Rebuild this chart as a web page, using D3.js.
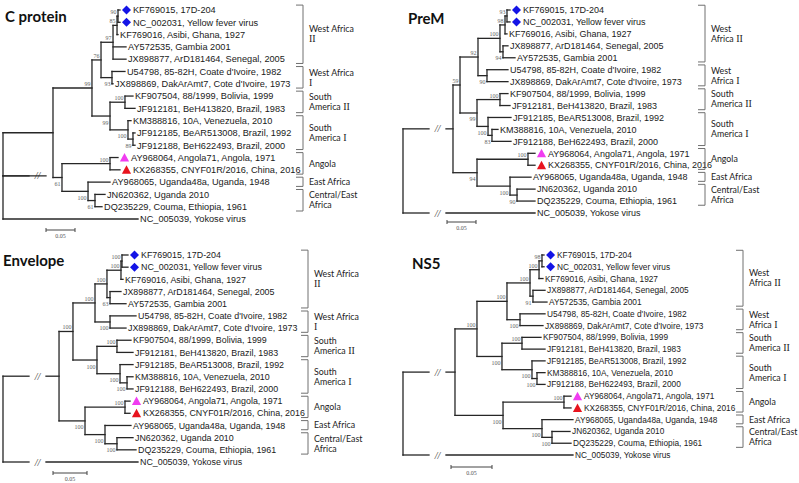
<!DOCTYPE html>
<html><head><meta charset="utf-8">
<script src="https://cdn.jsdelivr.net/npm/d3@7"></script>
<style>body{margin:0;background:#fff}svg{display:block}</style>
</head><body>
<svg id="chart" width="799" height="483"></svg>
<script>
// ---------- data ----------
const leafText = {
  "KF769015": "KF769015, 17D-204",
  "NC_002031": "NC_002031, Yellow fever virus",
  "KF769016": "KF769016, Asibi, Ghana, 1927",
  "AY572535": "AY572535, Gambia 2001",
  "JX898877": "JX898877, ArD181464, Senegal, 2005",
  "U54798": "U54798, 85-82H, Coate d'Ivoire, 1982",
  "JX898869": "JX898869, DakArAmt7, Cote d'Ivoire, 1973",
  "KF907504": "KF907504, 88/1999, Bolivia, 1999",
  "JF912181": "JF912181, BeH413820, Brazil, 1983",
  "KM388816": "KM388816, 10A, Venezuela, 2010",
  "JF912185": "JF912185, BeAR513008, Brazil, 1992",
  "JF912188": "JF912188, BeH622493, Brazil, 2000",
  "AY968064": "AY968064, Angola71, Angola, 1971",
  "KX268355": "KX268355, CNYF01R/2016, China, 2016",
  "AY968065": "AY968065, Uganda48a, Uganda, 1948",
  "JN620362": "JN620362, Uganda 2010",
  "DQ235229": "DQ235229, Couma, Ethiopia, 1961",
  "NC_005039": "NC_005039, Yokose virus"
};
const leafMarker = {"KF769015":"diamond","NC_002031":"diamond","AY968064":"triM","KX268355":"triR"};

const orderC = ["KF769015","NC_002031","KF769016","AY572535","JX898877","U54798","JX898869","KF907504","JF912181","KM388816","JF912185","JF912188","AY968064","KX268355","AY968065","JN620362","DQ235229","NC_005039"];
const orderOther = ["KF769015","NC_002031","KF769016","JX898877","AY572535","U54798","JX898869","KF907504","JF912181","JF912185","KM388816","JF912188","AY968064","KX268355","AY968065","JN620362","DQ235229","NC_005039"];

// trees: node depth (substitutions/site, display) after ':', bootstrap as internal name ('b' = label below node)
const treeC = "((((((((KF769015:0.2017,NC_002031:0.2017)90:0.1983,KF769016:0.1983)85:0.1966,AY572535:0.2121,JX898877:0.2121)97:0.1897,(U54798:0.2103,JX898869:0.1897)93b:0.1879)76:0.1690,((KF907504:0.2241,JF912181:0.2276)100:0.2103,(KM388816:0.2207,(JF912185:0.2276,JF912188:0.2276)89b:0.2241)100b:0.2155)99b:0.1845)99:0.1534,((AY968064:0.1983,KX268355:0.2017)100:0.1845,(AY968065:0.1845,(JN620362:0.1759,DQ235229:0.1707)61b:0.1586)100b:0.1466)61b:0.1017):0.0862,NC_005039:0.2328):0";
const treePreM = "(((((((KF769015:0.1845,NC_002031:0.1845)93:0.1793,KF769016:0.1793)98:0.1759,(JX898877:0.1810,AY572535:0.1931)94b:0.1724)100:0.1672,(U54798:0.1810,JX898869:0.1810)90b:0.1448)92:0.1293,((KF907504:0.1810,JF912181:0.1845)100:0.1672,(JF912185:0.1862,(KM388816:0.1638,JF912188:0.1862)83b:0.1534)100b:0.1466)99b:0.1276)59:0.0983,((AY968064:0.2276,KX268355:0.2276)100:0.2155,(AY968065:0.2207,(JN620362:0.2276,DQ235229:0.2276)90b:0.1966)100b:0.1845)94b:0.1276):0.0862,NC_005039:0.2276):0";
const treeEnv = "(((((((KF769015:0.1838,NC_002031:0.1838)100:0.1750,KF769016:0.1765)100:0.1735,(JX898877:0.1735,AY572535:0.1809)63b:0.1574)100:0.1529,(U54798:0.1956,JX898869:0.1809)100b:0.1574)100:0.1353,((KF907504:0.1882,JF912181:0.1912)100:0.1676,(JF912185:0.1912,(KM388816:0.1912,JF912188:0.1912)100b:0.1824)100b:0.1721)100b:0.1382)100:0.1029,((AY968064:0.1868,KX268355:0.1868)100:0.1794,(AY968065:0.1882,(JN620362:0.1912,DQ235229:0.1956)100b:0.1676)100b:0.1500)100b:0.1206):0.0824,NC_005039:0.1985):0";
const treeNS5 = "(((((((KF769015:0.1720,NC_002031:0.1720)98:0.1695,KF769016:0.1707)100:0.1659,(JX898877:0.1732,AY572535:0.1756)91b:0.1585)100:0.1549,(U54798:0.1732,JX898869:0.1707)100b:0.1427)100:0.1268,((KF907504:0.1683,JF912181:0.1732)100:0.1451,(JF912185:0.1732,(KM388816:0.1732,JF912188:0.1732)100b:0.1634)100b:0.1573)100b:0.1207)100:0.0902,((AY968064:0.2049,KX268355:0.2049)100:0.1963,(AY968065:0.2073,(JN620362:0.2037,DQ235229:0.2049)100b:0.1817)100b:0.1695)100b:0.1220):0.0634,NC_005039:0.2073):0";

// clades (leaf row index ranges, same in every panel)
const cladeFirst = [0,5,7,9,12,14,15];
const cladeLast  = [4,6,8,11,13,14,16];
const cladeLinesWide = [["West Africa","II"],["West Africa","I"],["South","America II"],["South","America I"],["Angola"],["East Africa"],["Central/East","Africa"]];
const cladeLinesNarrow = [["West","Africa II"],["West","Africa I"],["South","America II"],["South","America I"],["Angola"],["East Africa"],["Central/East","Africa"]];
const scaleBarValue = 0.05;

// ---------- layout ----------
const panels = [
  {title:"C protein", tx:5, ty:22, tree:treeC, order:orderC, rows:[10,219], x0:3, barPx:29, bx:303, barX:46, barY:230, fs:9.2, lines:cladeLinesWide},
  {title:"PreM", tx:408, ty:24, tree:treePreM, order:orderOther, rows:[10,213], x0:403, barPx:29, bx:705, barX:447, barY:222, fs:9, lines:cladeLinesNarrow},
  {title:"Envelope", tx:3, ty:266, tree:treeEnv, order:orderOther, rows:[255,462], x0:3, barPx:34, bx:308, barX:53, barY:473, fs:8.9, lines:cladeLinesWide},
  {title:"NS5", tx:412, ty:269, tree:treeNS5, order:orderOther, rows:[255,455], x0:403, barPx:41, bx:743, barX:451, barY:467, fs:8.3, lines:cladeLinesNarrow}
];

function parseNewick(s){
  let i=0;
  function node(){
    const n={children:[]};
    if(s[i]==='('){
      i++; n.children.push(node());
      while(s[i]===','){i++; n.children.push(node());}
      i++;
    }
    let name=''; while(i<s.length && !':,()'.includes(s[i])) name+=s[i++];
    let num=''; if(s[i]===':'){i++; while(i<s.length && !',()'.includes(s[i])) num+=s[i++];}
    n.name=name; n.depth=+num;
    if(!n.children.length) delete n.children;
    return n;
  }
  return node();
}

const svg = d3.select("#chart");
const LINE = "#262626";

panels.forEach(p=>{
  const g = svg.append("g");
  const x = d3.scaleLinear().domain([0, scaleBarValue]).range([p.x0, p.x0+p.barPx]);
  const y = d3.scaleLinear().domain([0, p.order.length-1]).range(p.rows);
  const root = d3.hierarchy(parseNewick(p.tree));
  root.eachAfter(n=>{
    n.px = x(n.data.depth);
    if(!n.children) n.py = y(p.order.indexOf(n.data.name));
    else n.py = (n.children[0].py + n.children[n.children.length-1].py)/2;
  });

  // title
  g.append("text").attr("x",p.tx).attr("y",p.ty).text(p.title)
    .attr("font-family","Lato, 'Open Sans', sans-serif").attr("font-weight","bold").attr("font-size",15).attr("fill","#111");

  // branches
  const segs=[];
  root.each(n=>{
    if(n.children){
      segs.push([n.px, n.children[0].py, n.px, n.children[n.children.length-1].py]);
    }
    if(n.parent){
      const P=n.parent;
      if(!P.parent){
        segs.push([P.px, n.py, P.px+26, n.py]);
        segs.push([P.px+43, n.py, n.px, n.py]);
        g.append("text").attr("x",P.px+34.5).attr("y",n.py+3.5).attr("text-anchor","middle")
          .attr("font-family","'Liberation Serif', serif").attr("font-style","italic").attr("font-size",10).attr("fill","#333").text("//");
      } else {
        segs.push([P.px, n.py, n.px, n.py]);
      }
    }
  });
  g.selectAll("line.br").data(segs).join("line").attr("class","br")
    .attr("x1",d=>d[0]).attr("y1",d=>d[1]).attr("x2",d=>d[2]).attr("y2",d=>d[3])
    .attr("stroke",LINE).attr("stroke-width",1.3).attr("stroke-linecap","square");

  // bootstrap labels
  root.descendants().filter(n=>n.children && n.data.name).forEach(n=>{
    const below = n.data.name.endsWith("b");
    g.append("text").attr("x",n.px-1.5).attr("y",below? n.py+8.5 : n.py-2)
      .attr("text-anchor","end").attr("font-family","'Liberation Serif', serif").attr("font-size",6).attr("fill","#666")
      .text(n.data.name.replace("b",""));
  });

  // leaves
  root.leaves().forEach(n=>{
    const m = leafMarker[n.data.name];
    let tx = n.px+2;
    if(m){
      const cx=n.px+6.5, cy=n.py;
      tx = n.px+13;
      if(m==="diamond"){
        g.append("path").attr("d",`M${cx},${cy-4.5}L${cx+4.5},${cy}L${cx},${cy+4.5}L${cx-4.5},${cy}Z`).attr("fill","#1414e6");
      } else {
        g.append("path").attr("d",`M${cx},${cy-4.5}L${cx+4.6},${cy+4}L${cx-4.6},${cy+4}Z`).attr("fill", m==="triM"?"#f03cf0":"#e8141e");
      }
    }
    g.append("text").attr("x",tx).attr("y",n.py+p.fs*0.36).text(leafText[n.data.name])
      .attr("font-family","'Liberation Sans', Arial, sans-serif").attr("font-size",p.fs).attr("fill","#1a1a1a");
  });

  // scale bar
  const b0 = p.barX, b1 = p.barX + (x(scaleBarValue)-x(0));
  g.append("path").attr("d",`M${b0},${p.barY-2}V${p.barY+2}M${b0},${p.barY}H${b1}M${b1},${p.barY-2}V${p.barY+2}`)
    .attr("stroke","#444").attr("stroke-width",1).attr("fill","none");
  g.append("text").attr("x",(b0+b1)/2).attr("y",p.barY+8).attr("text-anchor","middle")
    .attr("font-family","'Liberation Serif', serif").attr("font-size",6).attr("fill","#555").text(scaleBarValue.toFixed(2));

  // clade brackets
  const dy = y(1)-y(0);
  cladeFirst.forEach((f,k)=>{
    const top = y(f)-0.4*dy, bot = y(cladeLast[k])+0.35*dy;
    g.append("path").attr("d",`M${p.bx-7},${top}H${p.bx}V${bot}H${p.bx-7}`)
      .attr("stroke","#707070").attr("stroke-width",1).attr("fill","none");
    const lines = p.lines[k];
    const lh = 10, mid=(top+bot)/2;
    lines.forEach((ln,j)=>{
      const yy = mid - (lines.length-1)*lh/2 + j*lh + 3.2;
      const t = g.append("text").attr("x",p.bx+6).attr("y",yy)
        .attr("font-family","Lato, 'Open Sans', sans-serif").attr("font-size",8.8).attr("fill","#222");
      ln.split(" ").forEach((w,wi)=>{
        const roman = /^I+$/.test(w);
        t.append("tspan").text((wi?" ":"")+w)
          .attr("font-family", roman? "'Liberation Serif', serif" : null)
          .attr("font-size", roman? 10 : null);
      });
    });
  });
});
</script>
</body></html>
